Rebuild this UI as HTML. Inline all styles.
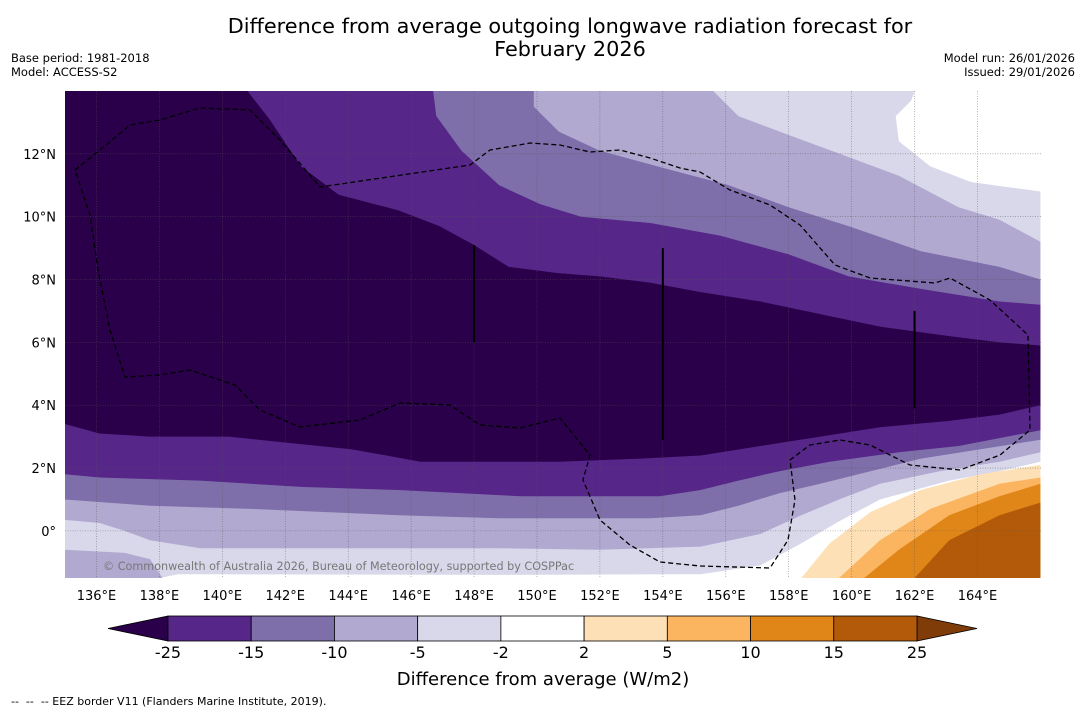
<!DOCTYPE html>
<html><head><meta charset="utf-8">
<style>
body{margin:0;background:#fff;font-family:"DejaVu Sans","Liberation Sans",sans-serif;}
#wrap{position:relative;width:1085px;height:713px;overflow:hidden;}
.t{position:absolute;white-space:nowrap;color:#000;}
</style></head>
<body>
<div id="wrap">
<div class="t" style="left:0;width:1140px;top:15px;text-align:center;font-size:20.8px;line-height:23px;">Difference from average outgoing longwave radiation forecast for<br>February 2026</div>
<div class="t" style="left:11px;top:51px;font-size:11.5px;line-height:14px;">Base period: 1981-2018<br>Model: ACCESS-S2</div>
<div class="t" style="right:10px;top:51px;font-size:11.5px;line-height:14px;text-align:right;">Model run: 26/01/2026<br>Issued: 29/01/2026</div>
<div class="t" style="left:11px;top:695px;font-size:11px;">--&nbsp; --&nbsp; -- EEZ border V11 (Flanders Marine Institute, 2019).</div>
<svg id="svg" width="1085" height="713" style="position:absolute;left:0;top:0"></svg>
</div>
<script>
const levels=[-25,-15,-10,-5,-2,2,5,10,15,25];
const bandColors=["#562689","#7e6faa","#b1a9d0","#d8d8ea","#ffffff","#fde0b5","#fbb561","#e08618","#b25a09"];
const lowColor="#2a004a", highColor="#7f3b08";
const lonTicks=[136,138,140,142,144,146,148,150,152,154,156,158,160,162,164];
const latTicks=[0,2,4,6,8,10,12];
const c2top=[[162,14],[161.9,13.7],[161.4,13.2],[161.5,12.4],[162.5,11.6],[163.8,11.1],[166,10.8]];
const c2bot=[[135,-1.5],[138,-1.5],[138.6,-1.38],[148.8,-1.4],[155.2,-1.38],[157.1,-1.1],[158.4,-0.4],[159.6,0.3],[160.9,1.0],[163.1,1.6],[164.7,1.9],[166,2.2]];
const c5top=[[155.6,14],[156.4,13.2],[158,12.6],[159.9,11.9],[161.5,11.3],[163.4,10.3],[164.7,9.9],[166,9.2]];
const c5bot=[[135,0.35],[136.1,0.25],[136.9,0.0],[137.7,-0.3],[139.3,-0.55],[142.5,-0.55],[145.6,-0.55],[148.8,-0.55],[152,-0.6],[155.2,-0.5],[157.1,-0.1],[158.4,0.5],[159.6,1.0],[160.9,1.5],[162.8,1.9],[164.7,2.2],[166,2.5]];
const c5blob=[[135,-0.6],[136.9,-0.7],[137.7,-0.9],[138.1,-1.5],[135,-1.5]];
const c10top=[[149.9,14],[149.9,13.5],[150.7,12.7],[152,12.1],[154.2,11.5],[156.1,11],[158,10.3],[159.9,9.7],[162.2,8.9],[164.7,8.4],[166,8.0]];
const c10bot=[[135,1.0],[137.7,0.8],[140.9,0.7],[145.6,0.5],[148.8,0.4],[153.6,0.4],[155.2,0.5],[156.4,0.8],[157.7,1.2],[159,1.5],[160.6,1.9],[162.2,2.3],[164.1,2.6],[166,2.9]];
const c15top=[[146.7,14],[146.8,13.2],[147.6,12.1],[148.8,11],[150.1,10.4],[151.4,10],[153.6,9.8],[155.8,9.4],[158,8.8],[159.9,8.1],[162.2,7.7],[164.7,7.3],[166,7.2]];
const c15bot=[[135,1.8],[136.1,1.7],[139.3,1.6],[142.5,1.4],[145.6,1.3],[149.5,1.1],[153.9,1.1],[155.2,1.3],[156.4,1.6],[157.7,1.9],[159.3,2.2],[161.5,2.5],[163.4,2.7],[166,3.2]];
const c25top=[[135,14],[140.8,14],[141.5,13.1],[142.5,11.6],[143.7,10.7],[145.6,10.2],[146.9,9.7],[148,9.1],[149.1,8.4],[150.7,8.2],[152,8.1],[153.6,7.9],[155.2,7.6],[157.1,7.3],[159,6.9],[160.9,6.5],[163.1,6.2],[164.7,6.0],[166,5.9]];
const c25bot=[[135,3.4],[136.1,3.1],[137.7,3.0],[140.2,3.0],[142.1,2.8],[144.1,2.6],[146.3,2.2],[148.8,2.2],[150.7,2.2],[153.3,2.3],[155.2,2.4],[157.1,2.7],[159,3.0],[160.9,3.3],[163.1,3.5],[164.7,3.7],[166,4.0]];
const p2=[[158.4,-1.5],[159.3,-0.4],[160.6,0.6],[162.2,1.3],[164.1,1.8],[166,2.1]];
const p5=[[159.6,-1.5],[160.9,-0.3],[162.5,0.7],[164.7,1.5],[166,1.7]];
const p10=[[160.4,-1.5],[161.5,-0.6],[163.1,0.5],[164.7,1.1],[166,1.5]];
const p15=[[162,-1.5],[163.1,-0.3],[164.7,0.5],[166,0.9]];

const L=65,R=1042,T=91,B=578,lon0=135,lon1=166.05,lat0=-1.5,lat1=14;
const xs=lon=>L+(lon-lon0)/(lon1-lon0)*(R-L);
const ys=lat=>B-(lat-lat0)/(lat1-lat0)*(B-T);
const NS="http://www.w3.org/2000/svg";
const FF="DejaVu Sans, Liberation Sans, sans-serif";
const svg=document.getElementById('svg');
function mk(tag,attrs,parent){const e=document.createElementNS(NS,tag);for(const k in attrs)e.setAttribute(k,attrs[k]);(parent||svg).appendChild(e);return e;}
function pts(a){return a.map(p=>xs(p[0]).toFixed(1)+','+ys(p[1]).toFixed(1)).join(' ');}
const defs=mk('defs',{});const cp=mk('clipPath',{id:'clip'},defs);mk('rect',{x:L,y:T,width:R-L,height:B-T},cp);
const g=mk('g',{'clip-path':'url(#clip)'});


mk('rect',{x:L,y:T,width:R-L,height:B-T,fill:'#ffffff'},g);
function band(top,bot,fill,name){
  const poly=top.concat(bot.slice().reverse());
  const e=mk('polygon',{points:pts(poly),fill:fill},g);
  
  
}
function blob(poly,fill,name){
  const e=mk('polygon',{points:pts(poly),fill:fill},g);
  
  
}
band([[135,14]].concat(c2top),c2bot,bandColors[3],'region-below-minus2');
band([[135,14]].concat(c5top),c5bot,bandColors[2],'region-below-minus5');
blob(c5blob,bandColors[2],'region-below-minus5-southwest');
band([[135,14]].concat(c10top),c10bot,bandColors[1],'region-below-minus10');
band([[135,14]].concat(c15top),c15bot,bandColors[0],'region-below-minus15');
band(c25top,c25bot,lowColor,'region-below-minus25');
function pos(line,fill,name){
  const poly=line.concat([[166,-1.5]]);
  const e=mk('polygon',{points:pts(poly),fill:fill},g);
  
  
}
pos(p2,bandColors[5],'region-above-2');
pos(p5,bandColors[6],'region-above-5');
pos(p10,bandColors[7],'region-above-10');
pos(p15,bandColors[8],'region-above-15');
lonTicks.forEach(v=>{const l=mk('line',{x1:xs(v),x2:xs(v),y1:T,y2:B,stroke:'#555','stroke-width':0.6,'stroke-dasharray':'1,1.5',opacity:0.7});

const t=mk('text',{x:xs(v),y:600,'font-size':13,'text-anchor':'middle','font-family':FF});t.textContent=v+'°E';
});
latTicks.forEach(v=>{const l=mk('line',{x1:L,x2:R,y1:ys(v),y2:ys(v),stroke:'#555','stroke-width':0.6,'stroke-dasharray':'1,1.5',opacity:0.7});

const t=mk('text',{x:56,y:ys(v)+5,'font-size':13,'text-anchor':'end','font-family':FF});t.textContent=v===0?'0°':v+'°N';
});
const eez=mk('path',{d:'M75,170 L100,150 L130,125 L160,120 L200,108 L250,110 L280,140 L320,187 L470,165 L490,150 L530,143 L560,145 L590,152 L620,150 L650,158 L680,168 L700,172 L730,190 L770,205 L800,225 L835,265 L870,278 L935,283 L950,278 L990,300 L1028,335 L1030,430 L1000,455 L960,470 L910,465 L870,445 L840,440 L810,445 L790,460 L795,500 L788,540 L770,568 L700,566 L660,562 L630,545 L600,520 L583,480 L590,455 L560,418 L520,428 L480,425 L450,405 L400,403 L360,420 L300,427 L260,410 L235,385 L190,370 L160,375 L125,377 L110,330 L98,270 L90,215 Z',fill:'none',stroke:'#000','stroke-width':1.3,'stroke-dasharray':'5,3'});

[[148,6,9.1],[154,2.9,9.0],[162,3.9,7.0]].forEach(a=>{const l=mk('line',{x1:xs(a[0]),x2:xs(a[0]),y1:ys(a[1]),y2:ys(a[2]),stroke:'#000','stroke-width':2});
});
const cr=mk('text',{x:103,y:570,'font-size':11.2,fill:'#777','font-family':FF});cr.textContent='© Commonwealth of Australia 2026, Bureau of Meteorology, supported by COSPPac';

const cbL=168,cbR=917,cbT=616,cbB=641,n=bandColors.length,w=(cbR-cbL)/n;
const tl=mk('polygon',{points:`${cbL},${cbT} ${cbL},${cbB} 108,${(cbT+cbB)/2}`,fill:lowColor,stroke:'#000','stroke-width':0.8});

const tr=mk('polygon',{points:`${cbR},${cbT} ${cbR},${cbB} 977,${(cbT+cbB)/2}`,fill:highColor,stroke:'#000','stroke-width':0.8});

bandColors.forEach((c,i)=>{const r=mk('rect',{x:cbL+i*w,y:cbT,width:w,height:cbB-cbT,fill:c,stroke:'#000','stroke-width':0.8});
});
levels.forEach((v,i)=>{const t=mk('text',{x:cbL+i*w,y:658,'font-size':16,'text-anchor':'middle','font-family':FF});t.textContent=v;
});
const ct=mk('text',{x:543,y:685,'font-size':18,'text-anchor':'middle','font-family':FF});ct.textContent='Difference from average (W/m2)';

</script>
</body></html>
